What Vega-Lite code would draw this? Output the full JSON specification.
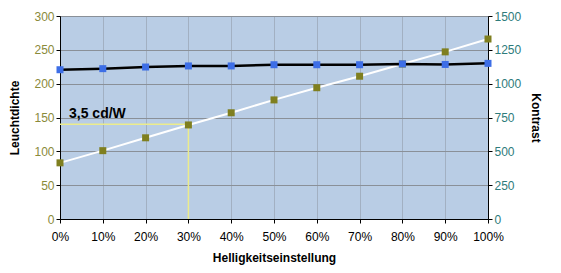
{
  "$schema": "https://vega.github.io/schema/vega-lite/v6.json",
  "autosize": "none",
  "width": 428,
  "height": 203,
  "padding": {"left": 60, "top": 16, "right": 73, "bottom": 54},
  "background": "white",
  "config": {
    "view": {"fill": "#b9cde5", "stroke": "#000000", "strokeWidth": 1},
    "axis": {
      "labelFont": "Liberation Sans",
      "labelFontSize": 12,
      "labelFlush": false,
      "labelOverlap": false,
      "titleFont": "Liberation Sans",
      "titleFontSize": 12,
      "titleFontWeight": "bold",
      "titleColor": "#000000",
      "domainColor": "#000000",
      "tickColor": "#000000",
      "tickSize": 4
    }
  },
  "datasets": {
    "messung": [
      {"h": 0.0, "leuchtdichte": 83, "kontrast": 1103},
      {"h": 0.1, "leuchtdichte": 101, "kontrast": 1111},
      {"h": 0.2, "leuchtdichte": 120, "kontrast": 1123},
      {"h": 0.3, "leuchtdichte": 139, "kontrast": 1131},
      {"h": 0.4, "leuchtdichte": 157, "kontrast": 1131},
      {"h": 0.5, "leuchtdichte": 176, "kontrast": 1140},
      {"h": 0.6, "leuchtdichte": 194, "kontrast": 1140},
      {"h": 0.7, "leuchtdichte": 211, "kontrast": 1140},
      {"h": 0.8, "leuchtdichte": 229, "kontrast": 1146},
      {"h": 0.9, "leuchtdichte": 247, "kontrast": 1142},
      {"h": 1.0, "leuchtdichte": 266, "kontrast": 1150}
    ],
    "marke": [
      {"h0": 0, "h": 0.3, "l0": 0, "l": 140, "label": "3,5 cd/W"}
    ]
  },
  "encoding": {
    "x": {
      "field": "h",
      "type": "quantitative",
      "scale": {"domain": [0, 1], "nice": false},
      "axis": {
        "title": "Helligkeitseinstellung",
        "format": ".0%",
        "values": [0, 0.1, 0.2, 0.3, 0.4, 0.5, 0.6, 0.7, 0.8, 0.9, 1],
        "labelColor": "#000000",
        "gridColor": "#a2b0c2",
        "gridWidth": 1,
        "labelPadding": 8,
        "titlePadding": 10
      }
    }
  },
  "layer": [
    {
      "data": {"name": "marke"},
      "layer": [
        {
          "mark": {"type": "rule", "color": "#ecec8c", "strokeWidth": 1.5},
          "encoding": {
            "x": {"field": "h0", "type": "quantitative"},
            "x2": {"field": "h"},
            "y": {"field": "l", "type": "quantitative", "scale": {"domain": [0, 300], "nice": false}, "axis": null}
          }
        },
        {
          "mark": {"type": "rule", "color": "#ecec8c", "strokeWidth": 1.5},
          "encoding": {
            "x": {"field": "h", "type": "quantitative"},
            "y": {"field": "l0", "type": "quantitative", "scale": {"domain": [0, 300], "nice": false}, "axis": null},
            "y2": {"field": "l"}
          }
        },
        {
          "mark": {"type": "text", "align": "left", "baseline": "bottom", "dx": 9, "dy": -3, "font": "Liberation Sans", "fontSize": 14, "fontWeight": "bold", "color": "#000000"},
          "encoding": {
            "x": {"field": "h0", "type": "quantitative"},
            "y": {"field": "l", "type": "quantitative", "scale": {"domain": [0, 300], "nice": false}, "axis": null},
            "text": {"field": "label"}
          }
        }
      ]
    },
    {
      "data": {"name": "messung"},
      "encoding": {
        "y": {
          "field": "leuchtdichte",
          "type": "quantitative",
          "scale": {"domain": [0, 300], "nice": false},
          "axis": {
            "title": "Leuchtdichte",
            "values": [0, 50, 100, 150, 200, 250, 300],
            "labelColor": "#8a8a3a",
            "grid": true,
            "gridColor": "#8a9098",
            "gridWidth": 1,
            "titlePadding": 12
          }
        }
      },
      "layer": [
        {"mark": {"type": "line", "color": "#ffffff", "strokeWidth": 2}},
        {"mark": {"type": "square", "size": 49, "filled": true, "color": "#7f7f1f", "opacity": 1}}
      ]
    },
    {
      "data": {"name": "messung"},
      "encoding": {
        "y": {
          "field": "kontrast",
          "type": "quantitative",
          "scale": {"domain": [0, 1500], "nice": false},
          "axis": {
            "title": "Kontrast",
            "orient": "right",
            "format": "d",
            "values": [0, 250, 500, 750, 1000, 1250, 1500],
            "labelColor": "#2e7b7b",
            "grid": false,
            "titleAngle": 90,
            "titlePadding": 8
          }
        }
      },
      "layer": [
        {"mark": {"type": "line", "color": "#000000", "strokeWidth": 2.5}},
        {"mark": {"type": "square", "size": 49, "filled": true, "color": "#3d6ee6", "opacity": 1}}
      ]
    }
  ],
  "resolve": {"scale": {"y": "independent"}}
}
